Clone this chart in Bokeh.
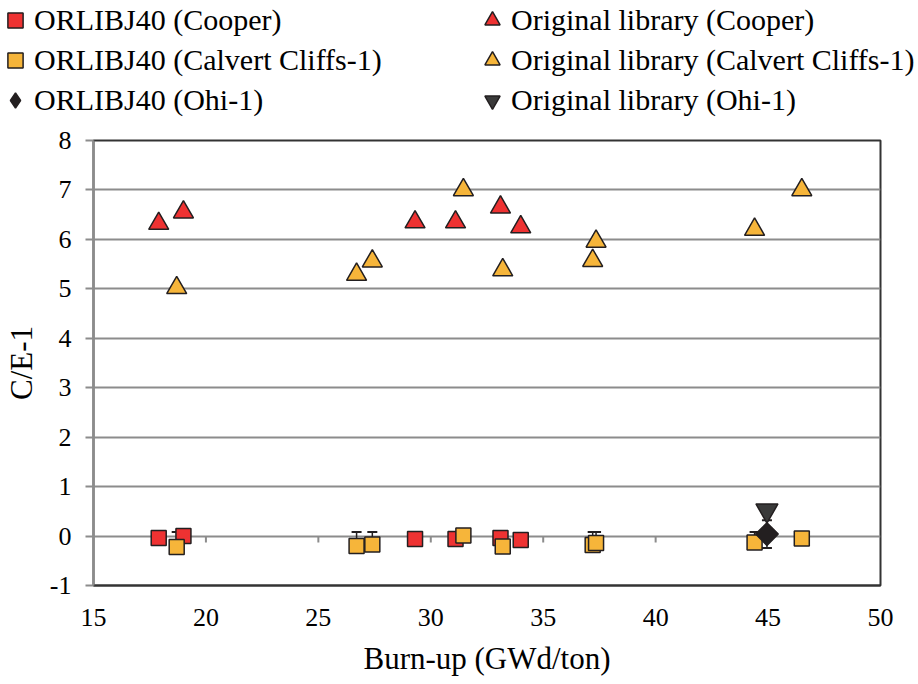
import math
from bokeh.plotting import figure
from bokeh.layouts import column
from bokeh.models import (ColumnDataSource, Legend, LegendItem, Whisker, TeeHead,
                          FixedTicker, Range1d)
from bokeh.embed import file_html
from bokeh.resources import INLINE

# ---------------- data ----------------
cooper_x = [17.9, 19.0, 29.3, 31.1, 33.1, 34.0]
cooper_orlibj = [-0.04, 0.0, -0.06, -0.06, -0.04, -0.08]
cooper_orig = [6.32, 6.55, 6.35, 6.35, 6.65, 6.25]

calvert_x = [18.7, 26.7, 27.4, 31.45, 33.2, 37.2, 37.35, 44.4, 46.5]
calvert_orlibj = [-0.22, -0.20, -0.17, 0.01, -0.21, -0.18, -0.14, -0.13, -0.05]
calvert_err = [0.30, 0.28, 0.25, 0.0, 0.0, 0.26, 0.22, 0.21, 0.0]
calvert_orig = [5.02, 5.29, 5.56, 7.0, 5.38, 5.57, 5.96, 6.2, 7.0]

ohi_x = [44.95]
ohi_orlibj = [0.04]
ohi_err = [0.28]
ohi_orig = [0.52]

x_ticks = [15, 20, 25, 30, 35, 40, 45, 50]
y_ticks = [-1, 0, 1, 2, 3, 4, 5, 6, 7, 8]
y_tick_labels = ["-1", "0", "1", "2", "3", "4", "5", "6", "7", "8"]
inner_ticks = [20, 25, 30, 35, 40, 45]

labels = ["ORLIBJ40 (Cooper)", "Original library (Cooper)",
          "ORLIBJ40 (Calvert Cliffs-1)", "Original library (Calvert Cliffs-1)",
          "ORLIBJ40 (Ohi-1)", "Original library (Ohi-1)"]

RED = "#EE3232"
ORANGE = "#F6B53A"
DARK = "#231F20"
GRID = "#8C8C8C"
FONT = "Liberation Serif"

# series styles: (marker, size, fill, angle)
styles = [("square", 15, RED, 0.0), ("triangle", 20, RED, 0.0),
          ("square", 15, ORANGE, 0.0), ("triangle", 20, ORANGE, 0.0),
          ("square", 16, DARK, math.pi / 4), ("inverted_triangle", 22, "#3A3A3A", 0.0)]
legend_markers = ["square", "triangle", "square", "triangle", "diamond", "inverted_triangle"]

series = [(cooper_x, cooper_orlibj), (cooper_x, cooper_orig),
          (calvert_x, calvert_orlibj), (calvert_x, calvert_orig),
          (ohi_x, ohi_orlibj), (ohi_x, ohi_orig)]

# ---------------- main plot ----------------
p = figure(width=918, height=559, output_backend="svg", toolbar_location=None,
           x_range=Range1d(15, 50), y_range=Range1d(-1, 8),
           min_border_left=92, min_border_right=38, min_border_top=15,
           min_border_bottom=99)
p.frame_align = False

p.background_fill_color = "white"
p.border_fill_color = "white"
p.outline_line_color = "#333333"
p.outline_line_width = 2

p.xgrid.grid_line_color = None
p.ygrid.grid_line_color = GRID
p.ygrid.grid_line_width = 2
p.ygrid.ticker = FixedTicker(ticks=y_ticks)

p.xaxis.ticker = FixedTicker(ticks=x_ticks)
p.yaxis.ticker = FixedTicker(ticks=y_ticks)
p.yaxis.major_label_overrides = {t: s for t, s in zip(y_ticks, y_tick_labels)}
p.xaxis.minor_tick_line_color = None
p.yaxis.minor_tick_line_color = None
p.xaxis.major_tick_line_color = None
p.xaxis.major_tick_out = 0
p.xaxis.major_tick_in = 0
p.xaxis.axis_line_color = "#333333"
p.xaxis.axis_line_width = 2
p.yaxis.axis_line_color = GRID
p.yaxis.axis_line_width = 2
p.yaxis.major_tick_line_color = GRID
p.yaxis.major_tick_line_width = 2
p.yaxis.major_tick_out = 8
p.yaxis.major_tick_in = 0

for ax in (p.xaxis, p.yaxis):
    ax.major_label_text_font = FONT
    ax.major_label_text_font_size = "26px"
    ax.major_label_text_color = "black"
    ax.axis_label_text_font = FONT
    ax.axis_label_text_font_size = "31px"
    ax.axis_label_text_font_style = "normal"
    ax.axis_label_text_color = "black"

p.xaxis.axis_label = "Burn-up (GWd/ton)"
p.yaxis.axis_label = "C/E-1"
p.xaxis.major_label_standoff = 23
p.yaxis.major_label_standoff = 14
p.xaxis.axis_label_standoff = 12
p.yaxis.axis_label_standoff = 8

# small tick marks on the y=0 line
p.segment(x0=inner_ticks, y0=[0] * len(inner_ticks), x1=inner_ticks,
          y1=[-0.13] * len(inner_ticks), line_color=GRID, line_width=2)

# error bars
cal_e = [(x, y, e) for x, y, e in zip(calvert_x, calvert_orlibj, calvert_err) if e > 0]
src_cal_err = ColumnDataSource(dict(x=[c[0] for c in cal_e],
                                    lower=[c[1] for c in cal_e],
                                    upper=[c[1] + c[2] for c in cal_e]))
p.add_layout(Whisker(source=src_cal_err, base="x", lower="lower", upper="upper",
                     dimension="height", line_color=DARK, line_width=1.5,
                     upper_head=TeeHead(size=10, line_color=DARK, line_width=2),
                     lower_head=None, level="underlay"))
src_ohi_err = ColumnDataSource(dict(x=ohi_x,
                                    lower=[y - e for y, e in zip(ohi_orlibj, ohi_err)],
                                    upper=[y + e for y, e in zip(ohi_orlibj, ohi_err)]))
p.add_layout(Whisker(source=src_ohi_err, base="x", lower="lower", upper="upper",
                     dimension="height", line_color=DARK, line_width=1.5,
                     upper_head=TeeHead(size=10, line_color=DARK, line_width=2),
                     lower_head=TeeHead(size=10, line_color=DARK, line_width=2),
                     level="underlay"))

for (xs, ys), (mk, sz, fc, ang) in zip(series, styles):
    p.scatter(xs, ys, marker=mk, size=sz, angle=ang, fill_color=fc,
              line_color=DARK, line_width=1.5)

# ---------------- legend strip ----------------
lg = figure(width=918, height=125, output_backend="svg", toolbar_location=None,
            x_range=Range1d(0, 1), y_range=Range1d(0, 1),
            x_axis_location=None, y_axis_location=None,
            min_border_left=0, min_border_right=0, min_border_top=0,
            min_border_bottom=0)
lg.frame_align = False
lg.grid.visible = False
lg.outline_line_color = None
lg.background_fill_color = "white"
lg.border_fill_color = "white"

# legend proxies: each uses its series' first point, which lies outside this strip's range
dummies = []
for (xs, ys), (mk, sz, fc, ang), lmk in zip(series, styles, legend_markers):
    dummies.append(lg.scatter(x=xs[:1], y=ys[:1], marker=lmk, size=sz,
                              fill_color=fc, line_color=DARK, line_width=1.5))

order = [0, 2, 4, 1, 3, 5]
items = [LegendItem(label=labels[i], renderers=[dummies[i]]) for i in order]

legend = Legend(items=items, location=(-4, 6), orientation="vertical", nrows=3,
                glyph_width=38, glyph_height=38, label_standoff=0, spacing=2,
                label_width=437, padding=0, margin=0,
                label_text_font=FONT, label_text_font_size="30px",
                label_text_color="black",
                background_fill_alpha=0, border_line_alpha=0)
lg.add_layout(legend, "center")

layout = column(lg, p, spacing=0)
open("out.html", "w").write(file_html(layout, INLINE))
